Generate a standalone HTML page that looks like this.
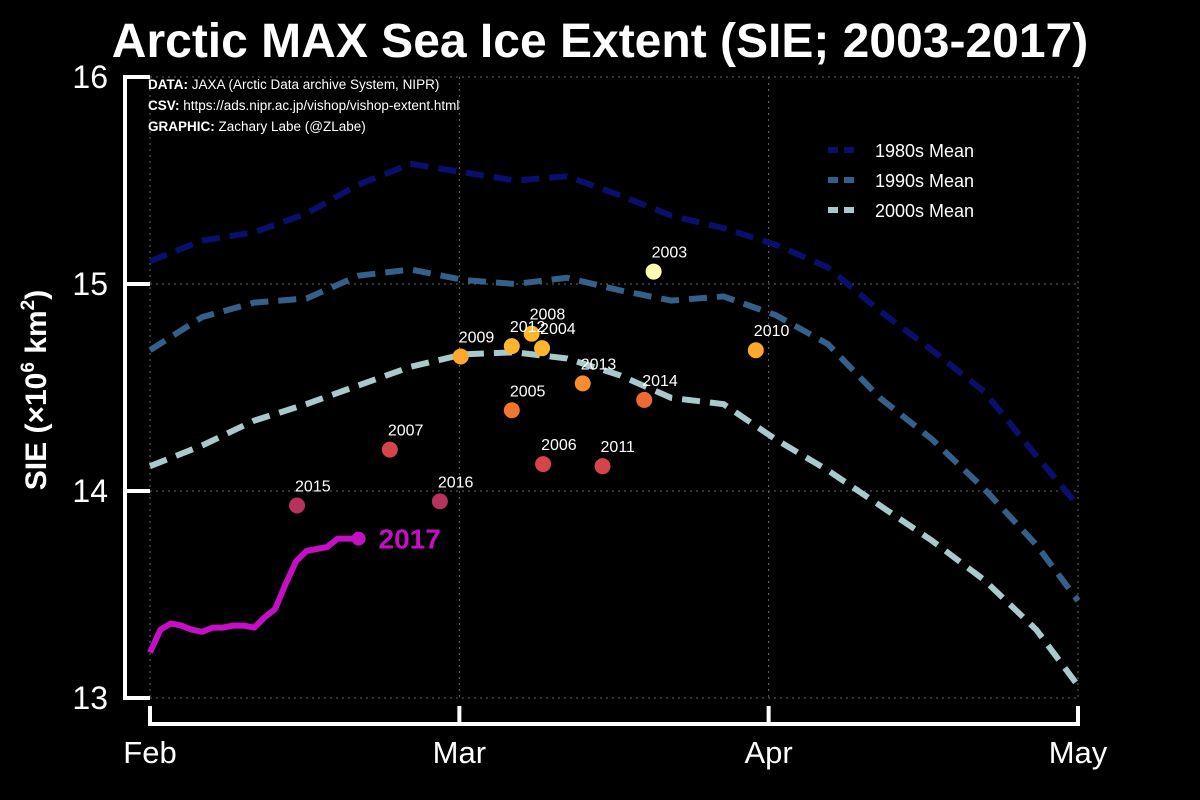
<!DOCTYPE html>
<html><head><meta charset="utf-8"><style>
body{margin:0;background:#000;}
svg{display:block;font-family:"Liberation Sans",sans-serif;}
</style></head><body>
<svg id="chart" width="1200" height="800" viewBox="0 0 1200 800">
<rect width="1200" height="800" fill="#000"/>
<text x="600" y="57" text-anchor="middle" fill="#fff" font-size="48" font-weight="bold">Arctic MAX Sea Ice Extent (SIE; 2003-2017)</text>
<text transform="translate(46,390) rotate(-90)" text-anchor="middle" fill="#fff" font-size="30" font-weight="bold">SIE (×10<tspan font-size="19" dy="-12">6</tspan><tspan dy="12"> km</tspan><tspan font-size="19" dy="-12">2</tspan><tspan dy="12">)</tspan></text>
<g id="grid"></g>
<g id="axes"></g>
<g id="series"></g>
<g id="pts"></g>
<g fill="#fff" font-size="13.5">
<text x="148" y="89"><tspan font-weight="bold">DATA:</tspan> JAXA (Arctic Data archive System, NIPR)</text>
<text x="148" y="110"><tspan font-weight="bold">CSV:</tspan> https://ads.nipr.ac.jp/vishop/vishop-extent.html</text>
<text x="148" y="131"><tspan font-weight="bold">GRAPHIC:</tspan> Zachary Labe (@ZLabe)</text>
</g>
<g id="legend"></g>
</svg>
<script>
const meanDays=[0,5,10,15,20,25,30,35,40,45,50,55,60,65,70,75,80,85,89];
const mean1980s=[15.11,15.21,15.25,15.34,15.48,15.58,15.54,15.50,15.52,15.43,15.33,15.27,15.19,15.08,14.87,14.68,14.48,14.17,13.93];
const mean1990s=[14.68,14.84,14.91,14.93,15.04,15.07,15.02,15.00,15.03,14.97,14.92,14.94,14.85,14.71,14.45,14.25,14.01,13.74,13.47];
const mean2000s=[14.12,14.22,14.34,14.42,14.51,14.60,14.66,14.67,14.64,14.56,14.45,14.42,14.25,14.10,13.93,13.76,13.57,13.33,13.06];
const sie2017=[13.22,13.33,13.36,13.35,13.33,13.32,13.34,13.34,13.35,13.35,13.34,13.39,13.43,13.55,13.66,13.71,13.72,13.73,13.77,13.77,13.77];
const maxYears=[2003,2004,2005,2006,2007,2008,2009,2010,2011,2012,2013,2014,2015,2016];
const maxDays=[48.3,37.6,34.7,37.7,23.0,36.6,29.8,58.1,43.4,34.7,41.5,47.4,14.1,27.8];
const maxValues=[15.06,14.69,14.39,14.13,14.20,14.76,14.65,14.68,14.12,14.70,14.52,14.44,13.93,13.95];
const maxColors=["#ffffb2","#fdb52e","#f27630","#d4444a","#d4444a","#fdb52e","#fca82e","#fca82e","#d4444a","#fdb52e","#f98d2e","#ee6a34","#b5335d","#b5335d"];
const yTicks=[13,14,15,16];
const xTickDays=[0,29.67,59.33,89];
const xTickLabels=["Feb","Mar","Apr","May"];
const NS="http://www.w3.org/2000/svg";
const X=d=>150+d*(1078-150)/89;
const Y=v=>698-(v-13)*(698-77)/3;
function mk(tag,attrs,parent){const e=document.createElementNS(NS,tag);for(const k in attrs)e.setAttribute(k,attrs[k]);parent.appendChild(e);return e;}
const grid=document.getElementById('grid'),axes=document.getElementById('axes'),series=document.getElementById('series'),pts=document.getElementById('pts'),legend=document.getElementById('legend');
yTicks.forEach(t=>{
 const g=mk('line',{x1:150,x2:1078,y1:Y(t),y2:Y(t),stroke:'#666','stroke-width':1,'stroke-dasharray':'2,4'},grid);
 
 
 const tk=mk('line',{x1:125,x2:150,y1:Y(t),y2:Y(t),stroke:'#fff','stroke-width':4},axes);
 
 
 const tl=mk('text',{x:108,y:Y(t)+11,'text-anchor':'end',fill:'#fff','font-size':32},axes);
 tl.textContent=t;
 
 
});
xTickDays.forEach((d,i)=>{
 const g=mk('line',{x1:X(d),x2:X(d),y1:77,y2:698,stroke:'#666','stroke-width':1,'stroke-dasharray':'2,4'},grid);
 
 
 const tk=mk('line',{x1:X(d),x2:X(d),y1:724,y2:706,stroke:'#fff','stroke-width':4},axes);
 
 
 const tl=mk('text',{x:X(d),y:763,'text-anchor':'middle',fill:'#fff','font-size':31},axes);
 tl.textContent=xTickLabels[i];
 
 
});
const ys=mk('line',{x1:125,x2:125,y1:75,y2:700,stroke:'#fff','stroke-width':4},axes);


const xs=mk('line',{x1:148,x2:1080,y1:724,y2:724,stroke:'#fff','stroke-width':4},axes);


const means=[[mean1980s,'#0a0f6e','1980s Mean'],[mean1990s,'#35608a','1990s Mean'],[mean2000s,'#a9c9cc','2000s Mean']];
means.forEach(([vals,col,lab],i)=>{
 const p=mk('path',{d:vals.map((v,j)=>(j?'L':'M')+X(meanDays[j]).toFixed(1)+','+Y(v).toFixed(1)).join(''),fill:'none',stroke:col,'stroke-width':6,'stroke-dasharray':'18,10'},series);
 
 
 const ly=150+i*30;
 const ll=mk('line',{x1:828,x2:856,y1:ly,y2:ly,stroke:col,'stroke-width':6,'stroke-dasharray':'10,6'},legend);
 
 
 const lt=mk('text',{x:875,y:ly+7,fill:'#fff','font-size':18},legend);
 lt.textContent=lab;
 
 
});
const l17=mk('path',{d:sie2017.map((v,j)=>(j?'L':'M')+X(j).toFixed(1)+','+Y(v).toFixed(1)).join(''),fill:'none',stroke:'#c40fc4','stroke-width':6,'stroke-linejoin':'round'},series);


const last=sie2017.length-1;
const e17=mk('circle',{cx:X(last),cy:Y(sie2017[last]),r:7,fill:'#c40fc4'},series);


const t17=mk('text',{x:X(last)+20,y:Y(sie2017[last])+10,fill:'#c40fc4','font-size':28,'font-weight':'bold'},series);
t17.textContent='2017';


maxYears.forEach((yr,i)=>{
 const c=mk('circle',{cx:X(maxDays[i]),cy:Y(maxValues[i]),r:8,fill:maxColors[i]},pts);
 
 
 const t=mk('text',{x:X(maxDays[i])-2,y:Y(maxValues[i])-14,fill:'#fff','font-size':16},pts);
 t.textContent=yr;
 
 
});
</script>
</body></html>
